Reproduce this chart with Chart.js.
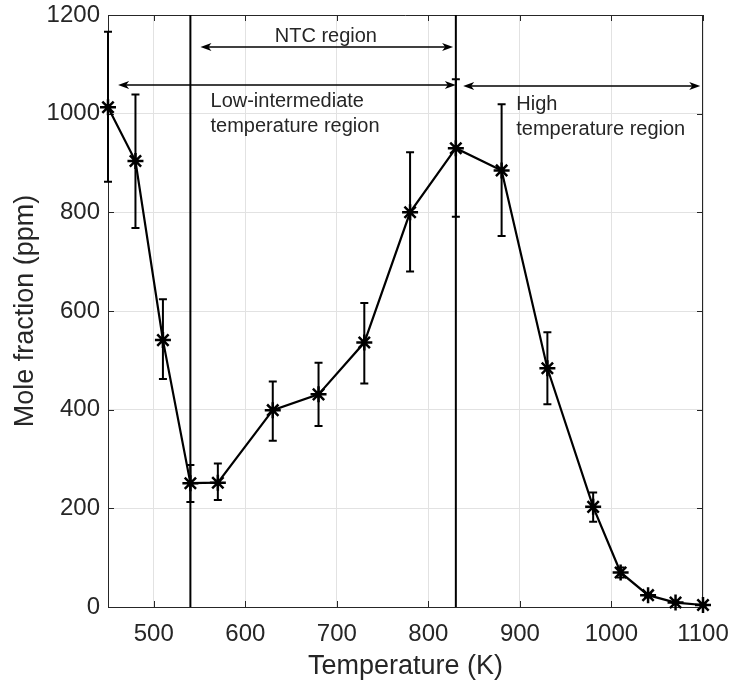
<!DOCTYPE html>
<html>
<head>
<meta charset="utf-8">
<script src="https://cdn.jsdelivr.net/npm/chart.js@4.4.1/dist/chart.umd.min.js"></script>
<style>
  body { margin: 0; background: #fff; }
  canvas { display: block; }
</style>
</head>
<body>
<canvas id="moleChart" width="734" height="685"></canvas>
<script>
// Temperature (K)
const temperatures = [450, 480, 510, 540, 570, 630, 680, 730, 780, 830, 880, 930, 980, 1010, 1040, 1070, 1100];
// Mole fraction (ppm)
const moleFraction = [1013, 904, 541, 251, 252, 399, 431, 536, 800, 930, 885, 484, 203, 70, 24, 9, 4];
// Error bar ends (ppm)
const errorLow = [862, 768, 462, 213, 217, 337, 367, 453, 680, 791, 752, 411, 173, 60, 20, 8, 3];
const errorHigh = [1166, 1039, 624, 288, 291, 457, 495, 616, 922, 1070, 1019, 557, 232, 80, 28, 10, 5];

// Tick labels
const xTicks = [500, 600, 700, 800, 900, 1000, 1100];
const yTicks = [0, 200, 400, 600, 800, 1000, 1200];

// Region borders (K)
const regionBorders = [540, 830];

// Double arrows: from, to, height
const arrowFrom = [551, 461, 838];
const arrowTo = [827, 830, 1097];
const arrowLevel = [1135, 1058, 1056];

// Region labels
const labelText = ["NTC region", "Low-intermediate", "temperature region", "High", "temperature region"];
const labelT = [688, 562, 562, 896, 896];
const labelPpm = [1145, 1013, 963, 1007, 957];

const FONT = "'Liberation Sans', Arial, Helvetica, sans-serif";
const TEXT_COLOR = "#262626";

// Arrow head (filled, swept back like MATLAB)
function arrowHead(ctx, x, y, dir) {
  ctx.beginPath();
  ctx.moveTo(x, y);
  ctx.lineTo(x + dir * 11, y - 4);
  ctx.lineTo(x + dir * 8, y);
  ctx.lineTo(x + dir * 11, y + 4);
  ctx.closePath();
  ctx.fill();
}

// Frame, inner ticks, error bars and annotations
const decorPlugin = {
  id: "decor",
  beforeDatasetsDraw(chart) {
    const ctx = chart.ctx;
    const a = chart.chartArea;
    const xs = chart.scales.x;
    const ys = chart.scales.y;
    ctx.save();
    ctx.strokeStyle = TEXT_COLOR;
    ctx.lineWidth = 1;
    ctx.beginPath();
    ctx.moveTo(a.left, a.top + 0.5);
    ctx.lineTo(a.right, a.top + 0.5);
    ctx.moveTo(a.right - 0.5, a.top);
    ctx.lineTo(a.right - 0.5, a.bottom);
    xTicks.forEach((t) => {
      const px = Math.round(xs.getPixelForValue(t)) + 0.5;
      ctx.moveTo(px, a.bottom);
      ctx.lineTo(px, a.bottom - 6);
      ctx.moveTo(px, a.top);
      ctx.lineTo(px, a.top + 6);
    });
    yTicks.forEach((v) => {
      const py = Math.round(ys.getPixelForValue(v)) + 0.5;
      ctx.moveTo(a.left, py);
      ctx.lineTo(a.left + 6, py);
      ctx.moveTo(a.right, py);
      ctx.lineTo(a.right - 6, py);
    });
    ctx.stroke();
    ctx.restore();
  },
  afterDatasetsDraw(chart) {
    const ctx = chart.ctx;
    const xs = chart.scales.x;
    const ys = chart.scales.y;
    ctx.save();

    // error bars
    ctx.strokeStyle = "#000";
    ctx.lineWidth = 2;
    temperatures.forEach((t, i) => {
      const px = xs.getPixelForValue(t);
      const top = ys.getPixelForValue(errorHigh[i]);
      const bot = ys.getPixelForValue(errorLow[i]);
      ctx.beginPath();
      ctx.moveTo(px, top);
      ctx.lineTo(px, bot);
      ctx.moveTo(px - 4, top);
      ctx.lineTo(px + 4, top);
      ctx.moveTo(px - 4, bot);
      ctx.lineTo(px + 4, bot);
      ctx.stroke();
    });

    // double arrows
    ctx.fillStyle = "#000";
    ctx.lineWidth = 1.5;
    arrowFrom.forEach((from, i) => {
      const x1 = xs.getPixelForValue(from);
      const x2 = xs.getPixelForValue(arrowTo[i]);
      const y = ys.getPixelForValue(arrowLevel[i]);
      ctx.beginPath();
      ctx.moveTo(x1 + 6, y);
      ctx.lineTo(x2 - 6, y);
      ctx.stroke();
      arrowHead(ctx, x1, y, 1);
      arrowHead(ctx, x2, y, -1);
    });

    // region labels
    ctx.fillStyle = TEXT_COLOR;
    ctx.font = "20px " + FONT;
    ctx.textBaseline = "alphabetic";
    labelText.forEach((txt, i) => {
      ctx.textAlign = i === 0 ? "center" : "left";
      ctx.fillText(txt, xs.getPixelForValue(labelT[i]), ys.getPixelForValue(labelPpm[i]));
    });
    ctx.restore();
  },
};

// Keep the plot box where the reference has it
const boxPlugin = {
  id: "box",
  afterLayout(chart) {
    const a = chart.chartArea;
    a.left = 108; a.right = 703; a.top = 15; a.bottom = 607;
    a.width = a.right - a.left; a.height = a.bottom - a.top;
    const xs = chart.scales.x, ys = chart.scales.y;
    xs.left = 108; xs.right = 703; xs.width = 595; xs.top = 607; xs.bottom = 685; xs.height = 78;
    ys.left = 0; ys.right = 108; ys.width = 108; ys.top = 15; ys.bottom = 607; ys.height = 592;
    xs.configure(); ys.configure();
  },
};

const ctx = document.getElementById("moleChart").getContext("2d");

const borderSets = regionBorders.map((t) => ({
  data: [{ x: t, y: yTicks[0] }, { x: t, y: yTicks[yTicks.length - 1] }],
  borderColor: "#000",
  borderWidth: 2,
  pointRadius: 0,
  showLine: true,
}));

let moleChart = new Chart(ctx, {
  type: "scatter",
  data: {
    datasets: [
      ...borderSets,
      {
        label: "Mole fraction",
        data: temperatures.map((t, i) => ({ x: t, y: moleFraction[i] })),
        showLine: true,
        borderColor: "#000",
        borderWidth: 2.2,
        pointStyle: "star",
        pointRadius: 8,
        pointBorderWidth: 2.5,
        pointBorderColor: "#000",
        pointBackgroundColor: "#000",
        tension: 0,
        clip: false,
      },
    ],
  },
  options: {
    responsive: false,
    devicePixelRatio: 1,
    animation: false,
    layout: { padding: { left: 0, top: 15, right: 31, bottom: 0 } },
    plugins: {
      legend: { display: false },
      tooltip: { enabled: false },
    },
    scales: {
      x: {
        type: "linear",
        min: 450,
        max: 1100,
        afterBuildTicks: (scale) => {
          scale.ticks = xTicks.map((v) => ({ value: v }));
        },
        afterFit: (scale) => {
          scale.height = 78;
        },
        grid: { color: "#e2e2e2", drawTicks: false },
        border: { color: TEXT_COLOR, width: 1 },
        ticks: {
          padding: 13,
          color: TEXT_COLOR,
          font: { family: FONT, size: 24 },
          maxRotation: 0,
          callback: (v) => String(v),
        },
        title: {
          display: true,
          text: "Temperature (K)",
          color: TEXT_COLOR,
          font: { family: FONT, size: 27 },
          padding: { top: 0, bottom: 2 },
        },
      },
      y: {
        type: "linear",
        min: 0,
        max: 1200,
        afterBuildTicks: (scale) => {
          scale.ticks = yTicks.map((v) => ({ value: v }));
        },
        afterFit: (scale) => {
          scale.width = 108;
        },
        grid: { color: "#e2e2e2", drawTicks: false },
        border: { color: TEXT_COLOR, width: 1 },
        ticks: {
          padding: 8,
          color: TEXT_COLOR,
          font: { family: FONT, size: 24 },
          callback: (v) => String(v),
        },
        title: {
          display: true,
          text: "Mole fraction (ppm)",
          color: TEXT_COLOR,
          font: { family: FONT, size: 27 },
          padding: { top: 9, bottom: 0 },
        },
      },
    },
  },
  plugins: [decorPlugin, boxPlugin],
});
</script>
</body>
</html>
